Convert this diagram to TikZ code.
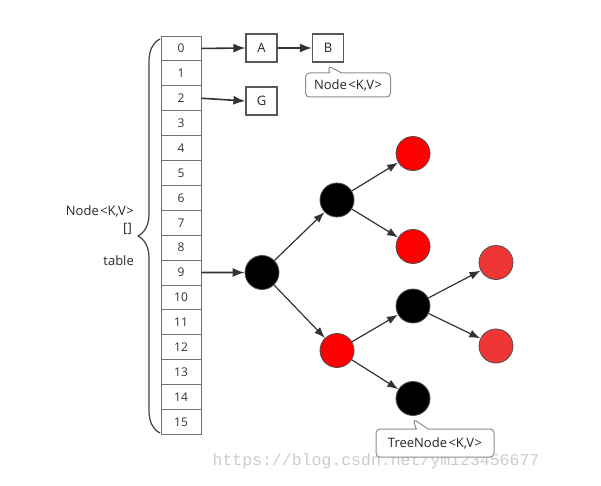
\documentclass[tikz,border=0pt]{standalone}
\usepackage{fontspec}
\setmainfont{Open Sans}
\setmonofont{Liberation Mono}
\usetikzlibrary{arrows.meta,shapes.callouts,calc,decorations.pathreplacing}
\definecolor{edge}{HTML}{333333}
\definecolor{lightred}{HTML}{F03535}
\newcommand{\kv}[1]{#1\kern1.5pt<K,V\kern0.5pt>}
\begin{document}
\begin{tikzpicture}[x=1pt,y=-1pt,
  cell/.style={draw=black!55, line width=0.9pt, minimum width=40pt, minimum height=24.9pt, inner sep=0pt, font=\fontsize{12}{13}\selectfont, text=black!80},
  box/.style={draw=black!65, line width=1.2pt, minimum width=31pt, minimum height=28pt, inner sep=0pt, font=\fontsize{13}{14}\selectfont, text=black!85},
  rb/.style={circle, draw=black!70, line width=0.8pt, fill=black, minimum size=34pt, inner sep=0pt},
  rr/.style={rb, fill=red},
  rl/.style={rb, fill=lightred},
  arr/.style={-{Latex[length=12pt,width=9pt]}, draw=edge, line width=1.6pt},
  tarr/.style={-{Latex[length=11pt,width=8pt]}, draw=edge, line width=1.2pt},
  lbl/.style={font=\fontsize{13}{14}\selectfont, text=black!85, inner sep=0pt},
  call/.style={rectangle callout, rounded corners=4pt, draw=black!45, line width=1pt, fill=white, minimum width=85pt, minimum height=24pt, inner sep=0pt, callout pointer width=12pt, font=\fontsize{13}{14}\selectfont, text=black!85}
]
\useasboundingbox (0,0) rectangle (601,486);
\foreach \i in {0,...,15} \node[cell] (c\i) at (181, 48.45+\i*24.9) {\i};
\draw[black!75, line width=1.2pt, decorate, decoration={brace, amplitude=22pt, raise=0pt}] (160,433) -- (160,39);
\node[lbl, anchor=east] (tn) at (134,211) {\kv{Node}};
\node[lbl, anchor=east] (tb) at (132,229) {[]};
\node[lbl, anchor=east] (tt) at (134,261) {table};

\node[box] (A) at (261.5,48) {A};
\node[box] (B) at (328,48) {B};
\node[box] (G) at (261.5,101) {G};
\draw[arr] (c0.east) -- (A.west);
\draw[arr] (A.east) -- (B.west);
\draw[arr] (c2.east) -- (G.west);

\node[call, minimum width=85pt, callout absolute pointer={($(B.south)+(0,3)$)}] (cb) at (348,85) {\kv{Node}};

\node[rb] (r) at (262,272.5) {};
\node[rb] (n1) at (337,200) {};
\node[rr] (a1) at (413,153.5) {};
\node[rr] (a2) at (413,246.5) {};
\node[rr] (n2) at (337,350.5) {};
\node[rb] (n3) at (413,306) {};
\node[rb] (lf) at (413,398.5) {};
\node[rl] (b1) at (496,262.5) {};
\node[rl] (b2) at (496,346) {};
\draw[arr] (c9.east) -- (r.west);
\draw[tarr] (r) -- (n1);
\draw[tarr] (r) -- (n2);
\draw[tarr] (n1) -- (a1);
\draw[tarr] (n1) -- (a2);
\draw[tarr] (n2) -- (n3);
\draw[tarr] (n2) -- (lf);
\draw[tarr] (n3) -- (b1);
\draw[tarr] (n3) -- (b2);

\node[font=\ttfamily\fontsize{16.5}{17}\selectfont, text=black!20, inner sep=0pt] (wm) at (376,461) {https://blog.csdn.net/ym123456677};
\node[call, minimum width=118pt, minimum height=28pt, callout absolute pointer={($(lf.south)+(0,3)$)}] (ct) at (435,443) {\kv{TreeNode}};
\end{tikzpicture}
\end{document}
